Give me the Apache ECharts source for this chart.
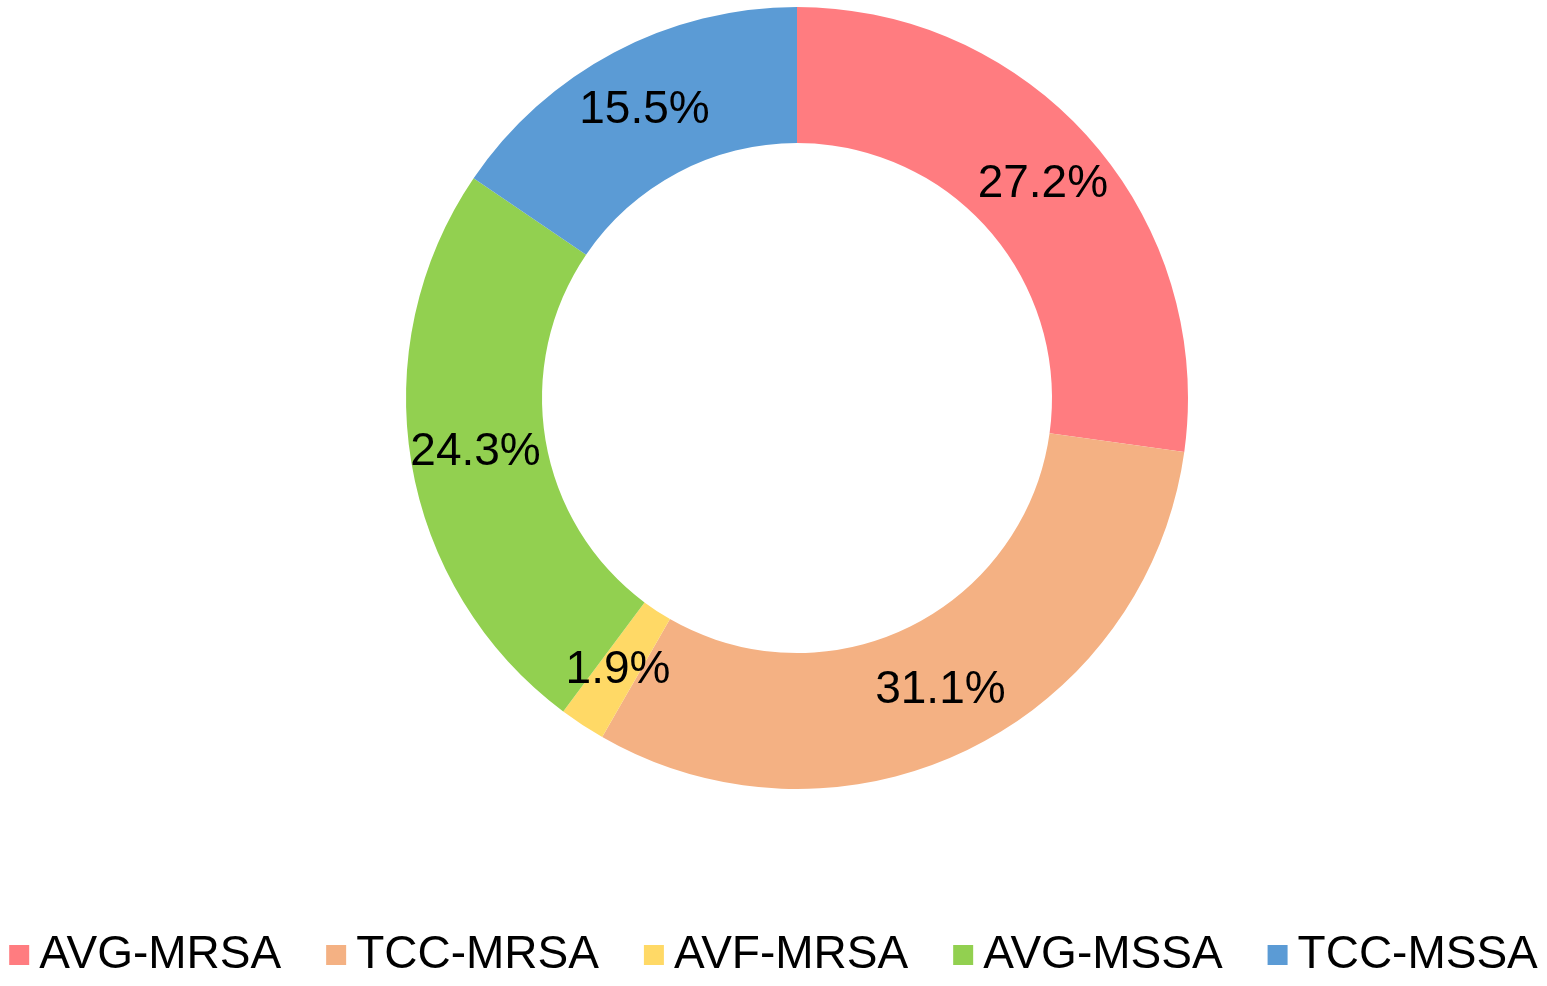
<!DOCTYPE html>
<html>
<head>
<meta charset="utf-8">
<script src="https://cdn.jsdelivr.net/npm/echarts@6/dist/echarts.min.js"></script>
<style>html,body{margin:0;padding:0;background:#fff;}#c{width:1547px;height:986px;}</style>
</head>
<body>
<div id="c"></div>
<script>
const categories = ['AVG-MRSA', 'TCC-MRSA', 'AVF-MRSA', 'AVG-MSSA', 'TCC-MSSA'];
const values = [27.2, 31.1, 1.9, 24.3, 15.5];
const colors = ['#FF7C80', '#F4B183', '#FFD966', '#92D050', '#5B9BD5'];

const chart = echarts.init(document.getElementById('c'));
chart.setOption({
  animation: false,
  color: colors,
  legend: {
    bottom: 8,
    left: 'center',
    padding: 0,
    icon: 'rect',
    itemWidth: 20,
    itemHeight: 20,
    itemGap: 45,
    data: categories,
    textStyle: { fontFamily: 'Liberation Sans, Arial', fontSize: 46, color: '#000', padding: [0, 0, 0, 5] }
  },
  series: [{
    type: 'pie',
    center: [797, 398],
    radius: [255, 391],
    startAngle: 90,
    clockwise: true,
    avoidLabelOverlap: false,
    itemStyle: { borderWidth: 0 },
    label: {
      show: true,
      position: 'inside',
      fontFamily: 'Liberation Sans, Arial',
      fontSize: 46,
      color: '#000',
      formatter: p => p.value.toFixed(1) + '%'
    },
    labelLine: { show: false },
    data: categories.map((n, i) => ({ name: n, value: values[i] }))
  }]
});
</script>
</body>
</html>
